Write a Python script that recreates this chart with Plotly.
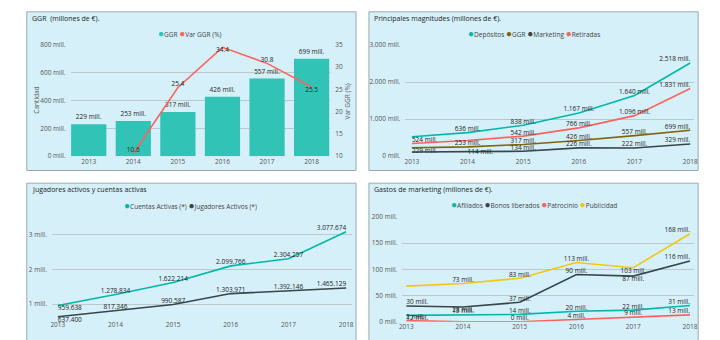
import plotly.graph_objects as go

W, H = 720, 340

# ---- data -------------------------------------------------------------
years = [2013, 2014, 2015, 2016, 2017, 2018]

# GGR (millones de €) and yearly variation (%)
ggr = [229, 253, 317, 426, 557, 699]
var_years = [2014, 2015, 2016, 2017, 2018]
var_ggr = [10.6, 25.4, 34.4, 30.8, 25.5]

# Principales magnitudes (millones de €)
depositos = [524, 636, 838, 1167, 1640, 2518]
retiradas = [345, 425, 542, 766, 1096, 1831]
marketing = [112, 114, 134, 226, 222, 329]

# Jugadores activos y cuentas activas
cuentas = [959638, 1278834, 1622214, 2099766, 2304257, 3077674]
jugadores = [637400, 817346, 990587, 1303971, 1392146, 1465129]

# Gastos de marketing (millones de €)
afiliados = [12, 13, 14, 20, 22, 31]
bonos = [30, 28, 37, 90, 87, 116]
patrocinio = [2, 0, 0, 4, 9, 13]
publicidad = [68, 73, 83, 113, 103, 168]

# axis ticks
ggr_ticks = [0, 200, 400, 600, 800]
var_ticks = [10, 15, 20, 25, 30, 35]
mag_ticks = [0, 1000, 2000, 3000]
players_ticks = [1_000_000, 2_000_000, 3_000_000]
mkt_ticks = [0, 50, 100, 150, 200]

# ---- styling ----------------------------------------------------------
FONT = "Open Sans"
TEAL = "#01b8aa"
BAR = "#30c3b6"
DARK = "#374649"
RED = "#fd625e"
YELLOW = "#f2c80f"
OLIVE = "#806508"
PANEL_BG = "#d5f0f9"
PANEL_LINE = "#9ea8ac"
GRID = "#bcc8cc"
TXT = "#252423"
TICK = "#555555"
FS = 6.5


def thousands(v):
    return f"{v:,}".replace(",", ".")


def mill(v):
    return f"{thousands(v)} mill."


def dx(a, b):
    return [a / W, b / W]


def dy(top, bottom):
    return [1 - bottom / H, 1 - top / H]


def labelled_line(x, y, name, color, xa, ya, positions, fmt):
    text = [fmt(v) if p else "" for v, p in zip(y, positions)]
    pos = [p if p else "top center" for p in positions]
    return go.Scatter(
        x=x, y=y, name=name, mode="lines+text",
        line=dict(color=color, width=1.6),
        text=text, textposition=pos,
        textfont=dict(family=FONT, size=FS, color=TXT),
        cliponaxis=False, xaxis=xa, yaxis=ya, showlegend=False,
    )


fig = go.Figure()

# ---- panel 1: GGR bars + variation line -------------------------------
fig.add_trace(go.Bar(
    x=years, y=ggr, name="GGR", marker=dict(color=BAR, line=dict(width=0)),
    text=[mill(v) for v in ggr], textposition="outside",
    textfont=dict(family=FONT, size=FS, color=TXT),
    cliponaxis=False, xaxis="x", yaxis="y", showlegend=False,
))
fig.add_trace(labelled_line(
    var_years, var_ggr, "Var GGR (%)", RED, "x", "y2",
    ["top center", "top center", "bottom center", "top center", "bottom center"],
    lambda v: f"{v}",
))

# ---- panel 2: main magnitudes ------------------------------------------
edge = ["top center", "top center", "top center", "top center", "top left"]
fig.add_trace(labelled_line(years, depositos, "Depósitos", TEAL, "x3", "y3",
                            ["bottom right"] + edge, mill))
fig.add_trace(labelled_line(years, retiradas, "Retiradas", RED, "x3", "y3",
                            [None, None] + edge[1:], mill))
fig.add_trace(labelled_line(years, ggr, "GGR", OLIVE, "x3", "y3",
                            ["bottom right"] + edge, mill))
fig.add_trace(labelled_line(years, marketing, "Marketing", DARK, "x3", "y3",
                            [None, "middle right"] + edge[1:], mill))

# ---- panel 3: players ---------------------------------------------------
fig.add_trace(labelled_line(years, cuentas, "Cuentas Activas (*)", TEAL, "x4", "y4",
                            ["bottom right"] + edge, thousands))
fig.add_trace(labelled_line(years, jugadores, "Jugadores Activos (*)", DARK, "x4", "y4",
                            ["bottom right"] + edge, thousands))

# ---- panel 4: marketing breakdown ---------------------------------------
fig.add_trace(labelled_line(years, publicidad, "Publicidad", YELLOW, "x5", "y5",
                            [None, "top center", "top center", "top center",
                             "bottom center", "top left"], mill))
fig.add_trace(labelled_line(years, bonos, "Bonos liberados", DARK, "x5", "y5",
                            ["top right", "bottom center", "top center", "top center",
                             "bottom center", "top left"], mill))
fig.add_trace(labelled_line(years, afiliados, "Afiliados", TEAL, "x5", "y5",
                            ["bottom right"] + edge, mill))
fig.add_trace(labelled_line(years, patrocinio, "Patrocinio", RED, "x5", "y5",
                            ["top right", None] + edge[1:], mill))

# ---- axes ---------------------------------------------------------------
tickfont = dict(family=FONT, size=FS, color=TICK)


def xaxis(domain, rng, anchor):
    return dict(domain=domain, range=rng, anchor=anchor, tickvals=years,
                ticktext=[str(y) for y in years], showgrid=False, zeroline=False,
                showline=False, ticks="", tickfont=tickfont, fixedrange=True)


def yaxis(domain, rng, anchor, tickvals, ticktext, **kw):
    d = dict(domain=domain, range=rng, anchor=anchor, tickvals=tickvals,
             ticktext=ticktext, showgrid=True, gridcolor=GRID, gridwidth=1,
             zeroline=False, showline=False, ticks="", tickfont=tickfont,
             ticklabelstandoff=4, fixedrange=True)
    d.update(kw)
    return d


p1_y = dy(40.7, 155.3)
p2_y = dy(41.3, 155.3)
p3_y = dy(226.8, 323.4)
p4_y = dy(217.7, 325.3)

fig.update_layout(
    xaxis=xaxis(dx(68.3, 330), [2013 - 0.404, 2018 + 0.418], "y"),
    yaxis=yaxis(p1_y, [0, 800], "x", ggr_ticks, [mill(v) for v in ggr_ticks]),
    yaxis2=yaxis(p1_y, [10, 35], "x", var_ticks, [str(v) for v in var_ticks],
                 overlaying="y", side="right", showgrid=False),
    xaxis3=xaxis(dx(405.7, 697.3), [2012.882, 2018.077], "y3"),
    yaxis3=yaxis(p2_y, [0, 3000], "x3", mag_ticks, [mill(v) for v in mag_ticks]),
    xaxis4=xaxis(dx(49.3, 352.3), [2012.897, 2018.108], "y4"),
    yaxis4=yaxis(p3_y, [0.55e6, 3.25e6], "x4", players_ticks,
                 [f"{v // 1_000_000} mill." for v in players_ticks]),
    xaxis5=xaxis(dx(402.7, 697.3), [2012.93, 2018.08], "y5"),
    yaxis5=yaxis(p4_y, [0, 200], "x5", mkt_ticks, [mill(v) for v in mkt_ticks]),
)

# ---- panel frames -------------------------------------------------------
panels = [(24, 7, 356, 170), (369, 7, 701, 170), (24, 183, 356, 345), (369, 183, 701, 345)]
for x0, y0, x1, y1 in panels:
    fig.add_shape(type="rect", xref="paper", yref="paper", layer="below",
                  x0=x0 / W, x1=x1 / W, y0=1 - y1 / H, y1=1 - y0 / H,
                  fillcolor=PANEL_BG, line=dict(color=PANEL_LINE, width=1))


def note(text, px, py, size=FS + 0.5, color=TXT, xanchor="left", angle=0):
    fig.add_annotation(text=text, x=px / W, y=1 - py / H, xref="paper", yref="paper",
                       showarrow=False, xanchor=xanchor, yanchor="middle",
                       textangle=angle, font=dict(family=FONT, size=size, color=color))


def legend(items, cx, cy):
    parts = [f'<span style="color:{c};font-size:10px">●</span>{n}' for n, c in items]
    note(" ".join(parts), cx, cy, size=FS, color="#444444", xanchor="center")


note("GGR  (millones de €).", 27.5, 13.5)
note("Principales magnitudes (millones de €).", 372.5, 14)
note("Jugadores activos y cuentas activas", 27.5, 189.5)
note("Gastos de marketing (millones de €).", 372.5, 189.5)

legend([("GGR", BAR), ("Var GGR (%)", RED)], 189, 28.5)
legend([("Depósitos", TEAL), ("GGR", OLIVE), ("Marketing", DARK), ("Retiradas", RED)], 535, 29)
legend([("Cuentas Activas (*)", TEAL), ("Jugadores Activos (*)", DARK)], 189, 205)
legend([("Afiliados", TEAL), ("Bonos liberados", DARK), ("Patrocinio", RED),
        ("Publicidad", YELLOW)], 535, 204.5)

note("Cantidad", 33.5, 98, size=FS, color=TICK, xanchor="center", angle=-90)
note("Var GGR (%)", 347, 99, size=FS, color=TICK, xanchor="center", angle=-90)

fig.update_layout(
    width=W, height=H, margin=dict(l=0, r=0, t=0, b=0),
    paper_bgcolor="white", plot_bgcolor="rgba(0,0,0,0)",
    bargap=0.21, showlegend=False,
    font=dict(family=FONT, size=FS, color=TXT),
)

fig.write_html("out.html", config={"displayModeBar": False})
